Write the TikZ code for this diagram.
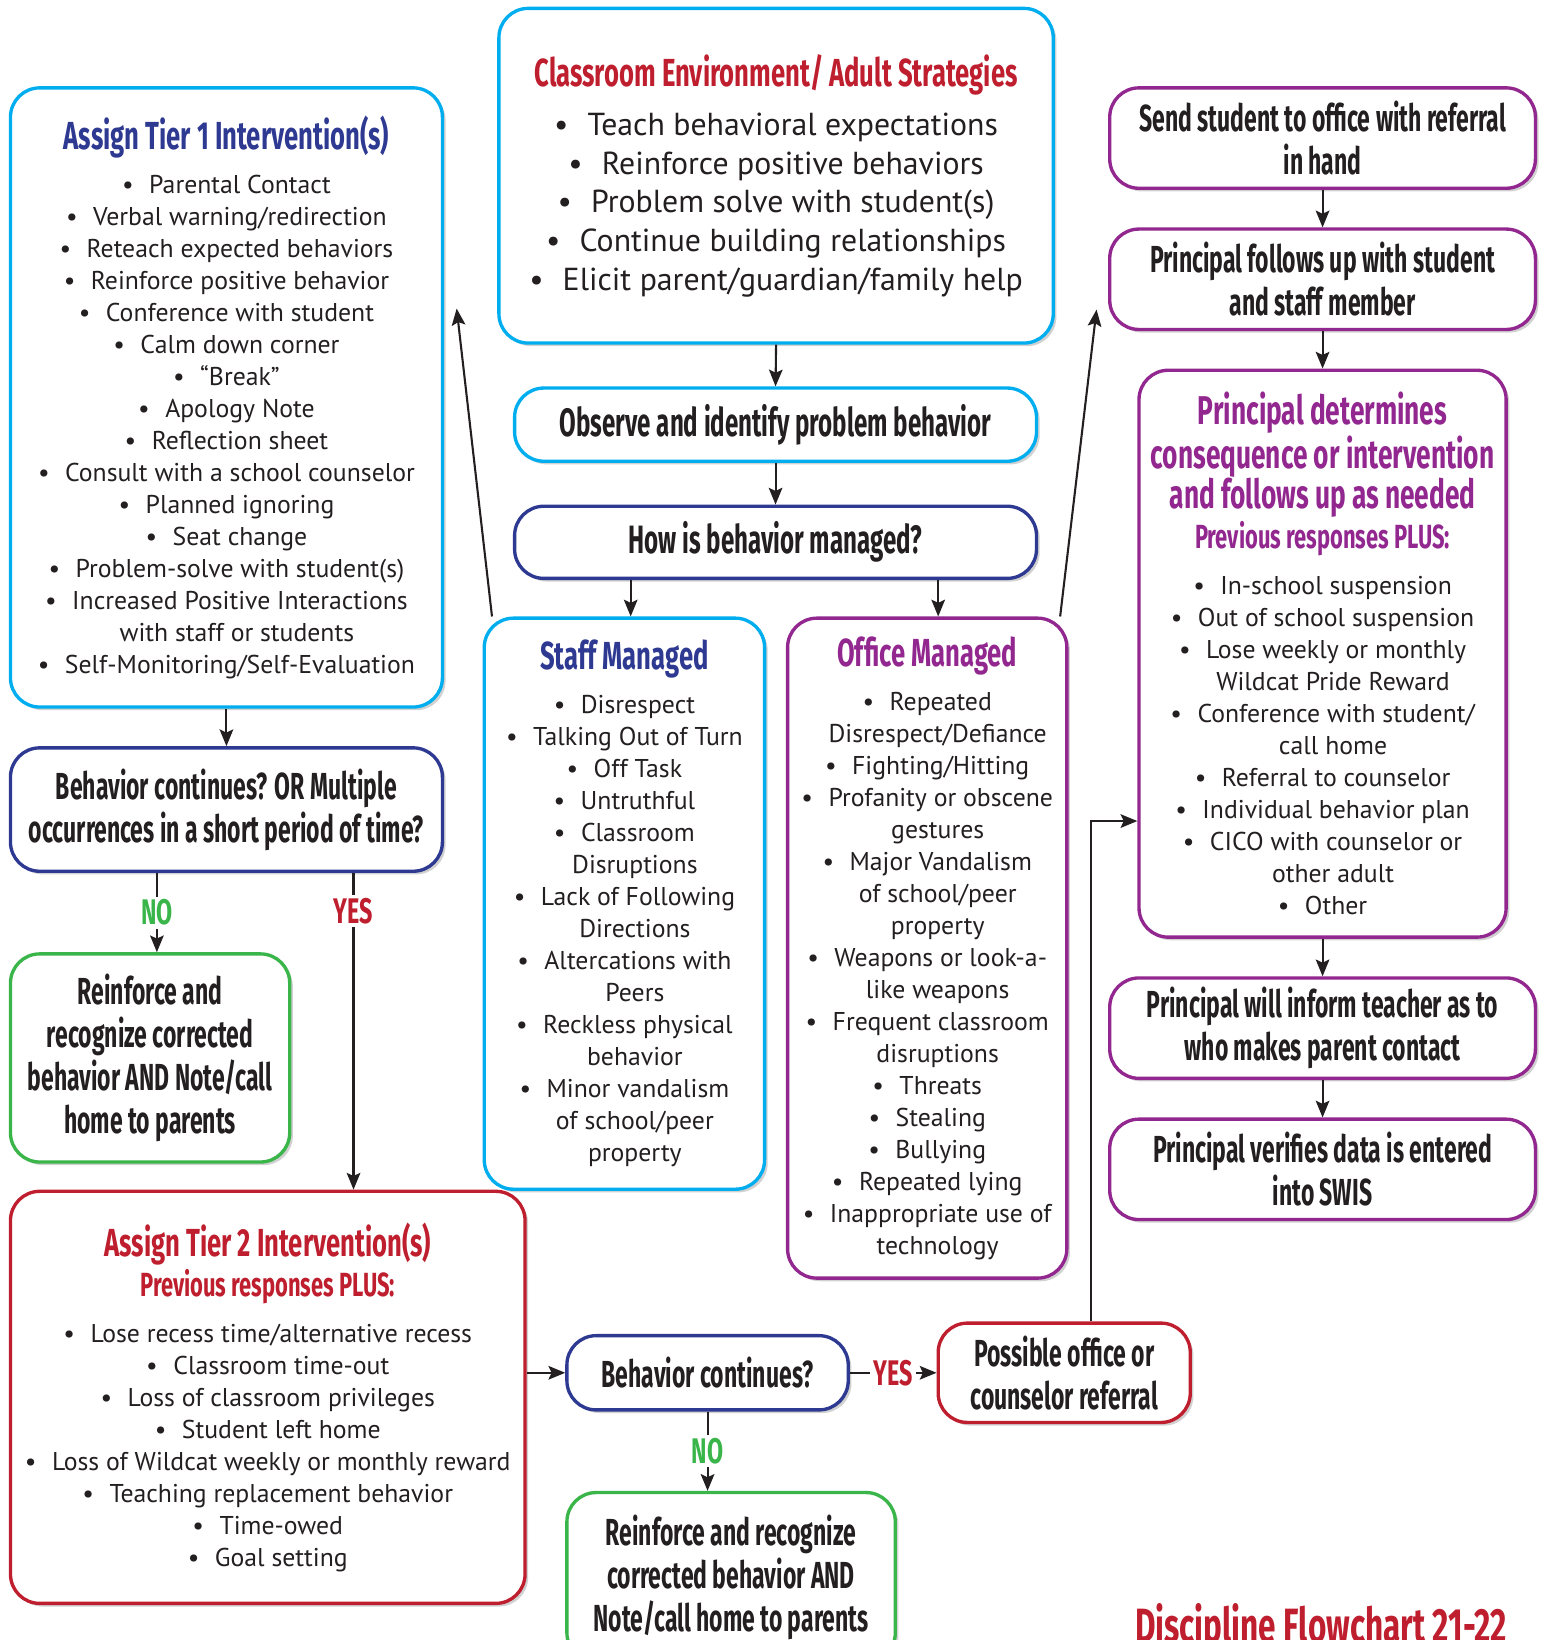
\documentclass[tikz,border=0pt]{standalone}
\usepackage{fontspec}
\setmainfont{PT Sans}
\newfontfamily\hf[FakeStretch=0.655]{Fira Sans}
\newfontfamily\hfb[FakeStretch=0.61]{Fira Sans}
\usetikzlibrary{shadows,arrows.meta,calc}
\definecolor{cyanb}{RGB}{0,174,239}
\definecolor{navyb}{RGB}{46,57,146}
\definecolor{purb}{RGB}{146,39,143}
\definecolor{redb}{RGB}{190,30,45}
\definecolor{greenb}{RGB}{57,181,74}
\definecolor{txt}{RGB}{35,31,32}
\newcommand\HD[3]{\hf\bfseries\color{#1}\fontsize{#2}{#3}\selectfont}
\newcommand\BD{\normalfont\color{txt}\fontsize{12.3}{15.3}\selectfont}
\newcommand\BL{\normalfont\color{txt}\fontsize{15.2}{18.5}\selectfont}
\newcommand\BT{\hfb\bfseries\fontsize{18}{20.5}\selectfont}
\newcommand\BTL{\hfb\bfseries\fontsize{18.9}{20.5}\selectfont}
\newcommand\bl{\textbullet\hspace{0.6em}}
\newcommand\cl{\hspace*{10pt}}
\tikzset{
  box/.style={draw, line width=1.6pt, rounded corners=14pt, fill=white,
    drop shadow={shadow xshift=1.5pt, shadow yshift=-1.5pt, opacity=0.3, fill=black!60},
    align=flush center, inner sep=0pt, text=txt},
  cy/.style={box, draw=cyanb},
  nv/.style={box, draw=navyb},
  pu/.style={box, draw=purb},
  rd/.style={box, draw=redb},
  gr/.style={box, draw=greenb},
  bt/.style={font=\BT},
  btl/.style={font=\BTL},
  arr/.style={-{Stealth[length=8pt,width=6.5pt,inset=1.5pt]}, line width=1pt, draw=txt},
  lbl/.style={font=\hf\bfseries\fontsize{17}{17}\selectfont, fill=white, inner sep=1.5pt}
}
\begin{document}
\lineskiplimit=-20pt\relax
\begin{tikzpicture}[x=0.5pt,y=-0.5pt]
\useasboundingbox (0,0) rectangle (1478,1568);

% ---- top centre
\node[cy, minimum width=265pt, minimum height=160pt, text width=258pt] (class) at (742,168)
 {\HD{redb}{18.7}{21}Classroom Environment/ Adult Strategies\\[5pt]\BL
  \bl Teach behavioral expectations\\
  \bl Reinforce positive behaviors\\
  \bl Problem solve with student(s)\\
  \bl Continue building relationships\\
  \bl Elicit parent/guardian/family help\par};

\node[cy, btl, minimum width=249.5pt, minimum height=35pt, text width=245pt] (observe) at (741.5,406)
 {Observe and identify problem behavior\par};
\node[nv, btl, minimum width=249.5pt, minimum height=34.5pt, text width=245pt] (howis) at (741.5,518.5)
 {How is behavior managed?\par};

% ---- tier 1
\node[cy, minimum width=206.5pt, minimum height=296pt, text width=200pt] (tier1) at (216.5,380)
 {\HD{navyb}{18.7}{21}Assign Tier 1 Intervention(s)\\[5.7pt]\BD
  \bl Parental Contact\\
  \bl Verbal warning/redirection\\
  \bl Reteach expected behaviors\\
  \bl Reinforce positive behavior\\
  \bl Conference with student\\
  \bl Calm down corner\\
  \bl “Break”\\
  \bl Apology Note\\
  \bl Reflection sheet\\
  \bl Consult with a school counselor\\
  \bl Planned ignoring\\
  \bl Seat change\\
  \bl Problem-solve with student(s)\\
  \bl Increased Positive Interactions\\
  \cl with staff or students\\
  \bl Self-Monitoring/Self-Evaluation\par};

% ---- staff / office
\node[cy, minimum width=134pt, minimum height=273pt, text width=130pt] (staff) at (597,864)
 {\HD{navyb}{18.7}{21}Staff Managed\\[5.7pt]\BD
  \bl Disrespect\\
  \bl Talking Out of Turn\\
  \bl Off Task\\
  \bl Untruthful\\
  \bl Classroom\\
  \cl Disruptions\\
  \bl Lack of Following\\
  \cl Directions\\
  \bl Altercations with\\
  \cl Peers\\
  \bl Reckless physical\\
  \cl behavior\\
  \bl Minor vandalism\\
  \cl of school/peer\\
  \cl property\par};

\node[pu, minimum width=133.5pt, minimum height=315.5pt, text width=130pt] (office) at (886.5,906.5)
 {\HD{purb}{18.7}{21}Office Managed\\[5.7pt]\BD
  \bl Repeated\\
  \cl Disrespect/Defiance\\
  \bl Fighting/Hitting\\
  \bl Profanity or obscene\\
  \cl gestures\\
  \bl Major Vandalism\\
  \cl of school/peer\\
  \cl property\\
  \bl Weapons or look-a-\\
  \cl like weapons\\
  \bl Frequent classroom\\
  \cl disruptions\\
  \bl Threats\\
  \bl Stealing\\
  \bl Bullying\\
  \bl Repeated lying\\
  \bl Inappropriate use of\\
  \cl technology\par};

% ---- right column
\node[pu, bt, minimum width=203.5pt, minimum height=48pt, text width=200pt] (send) at (1264.5,132)
 {Send student to office with referral\\in hand\par};
\node[pu, bt, minimum width=203.5pt, minimum height=48pt, text width=200pt] (follows) at (1264.5,267)
 {Principal follows up with student\\and staff member\par};
\node[pu, minimum width=175.5pt, minimum height=271pt, text width=172pt] (det) at (1264.5,625)
 {\HD{purb}{19.2}{19.25}Principal determines\\consequence or intervention\\and follows up as needed\\
  \fontsize{16}{18.75}\selectfont Previous responses PLUS:\\[7pt]\BD
  \bl In-school suspension\\
  \bl Out of school suspension\\
  \bl Lose weekly or monthly\\
  \cl Wildcat Pride Reward\\
  \bl Conference with student/\\
  \cl call home\\
  \bl Referral to counselor\\
  \bl Individual behavior plan\\
  \bl CICO with counselor or\\
  \cl other adult\\
  \bl Other\par};
\node[pu, bt, minimum width=203.5pt, minimum height=48pt, text width=200pt] (inform) at (1264.5,983)
 {Principal will inform teacher as to\\who makes parent contact\par};
\node[pu, bt, minimum width=203.5pt, minimum height=48pt, text width=200pt] (verify) at (1264.5,1118)
 {Principal verifies data is entered\\into SWIS\par};

% ---- left lower
\node[nv, bt, minimum width=206.5pt, minimum height=59pt, text width=204pt] (bcor) at (216.5,774)
 {Behavior continues? OR Multiple\\occurrences in a short period of time?\par};
\node[gr, bt, minimum width=133.5pt, minimum height=99.5pt, text width=130pt] (reinl) at (143.5,1011.5)
 {Reinforce and\\recognize corrected\\behavior AND Note/call\\home to parents\par};
\node[rd, minimum width=246pt, minimum height=197pt, text width=240pt] (tier2) at (256,1336)
 {\HD{redb}{18.7}{21}Assign Tier 2 Intervention(s)\\
  \fontsize{16}{19.5}\selectfont Previous responses PLUS:\\[6.7pt]\BD
  \bl Lose recess time/alternative recess\\
  \bl Classroom time-out\\
  \bl Loss of classroom privileges\\
  \bl Student left home\\
  \bl Loss of Wildcat weekly or monthly reward\\
  \bl Teaching replacement behavior\\
  \bl Time-owed\\
  \bl Goal setting\par};

\node[nv, bt, minimum width=134.5pt, minimum height=35.5pt, text width=130pt] (bc) at (676.5,1312.5)
 {Behavior continues?\par};
\node[rd, bt, minimum width=120.5pt, minimum height=47.5pt, text width=118pt] (poss) at (1017.5,1312.5)
 {Possible office or\\counselor referral\par};
\node[gr, bt, minimum width=157pt, minimum height=81pt, text width=154pt] (reinb) at (699,1508)
 {Reinforce and recognize\\corrected behavior AND\\Note/call home to parents\par};

\node[font=\hf\bfseries\fontsize{23}{24}\selectfont, text=redb, anchor=base, inner sep=0pt] (title) at (1263,1570)
 {Discipline Flowchart 21-22};

% ---- connectors
\draw[arr] (class.south) -- (observe.north);
\draw[arr] (observe.south) -- (howis.north);
\coordinate (h1) at ($(howis.south)+(-138.5,0)$);
\coordinate (h2) at ($(howis.south)+(155.5,0)$);
\draw[arr] (h1) -- (h1 |- staff.north);
\draw[arr] (h2) -- (h2 |- office.north);
\coordinate (sa) at ($(staff.north west)+(9,0)$);
\coordinate (ta) at ($(tier1.east)+(12,-85)$);
\draw[arr] (sa) -- (ta);
\coordinate (oa) at ($(office.north east)+(-8,0)$);
\coordinate (fa) at ($(follows.west)+(-11,29)$);
\draw[arr] (oa) -- (fa);
\draw[arr] (tier1.south) -- (bcor.north);
\coordinate (n1) at ($(bcor.south)+(-66.5,0)$);
\draw[arr] (n1) -- node[lbl, text=greenb]{NO} (n1 |- reinl.north);
\coordinate (y1) at ($(bcor.south)+(121.5,0)$);
\draw[arr] (y1) -- node[lbl, text=redb, pos=0.12]{YES} (y1 |- tier2.north);
\draw[arr] (send.south) -- (follows.north);
\draw[arr] (follows.south) -- (det.north);
\draw[arr] (det.south) -- (inform.north);
\draw[arr] (inform.south) -- (verify.north);
\draw[arr] (bc.west -| tier2.east) -- (bc.west);
\draw[arr] (bc.east) -- node[lbl, text=redb]{YES} (poss.west);
\draw[arr] (bc.south) -- node[lbl, text=greenb]{NO} (bc.south |- reinb.north);
\coordinate (pa) at ($(poss.north)+(25.5,0)$);
\draw[arr] (pa) |- ($(det.west)+(0,160)$);
\end{tikzpicture}
\end{document}
